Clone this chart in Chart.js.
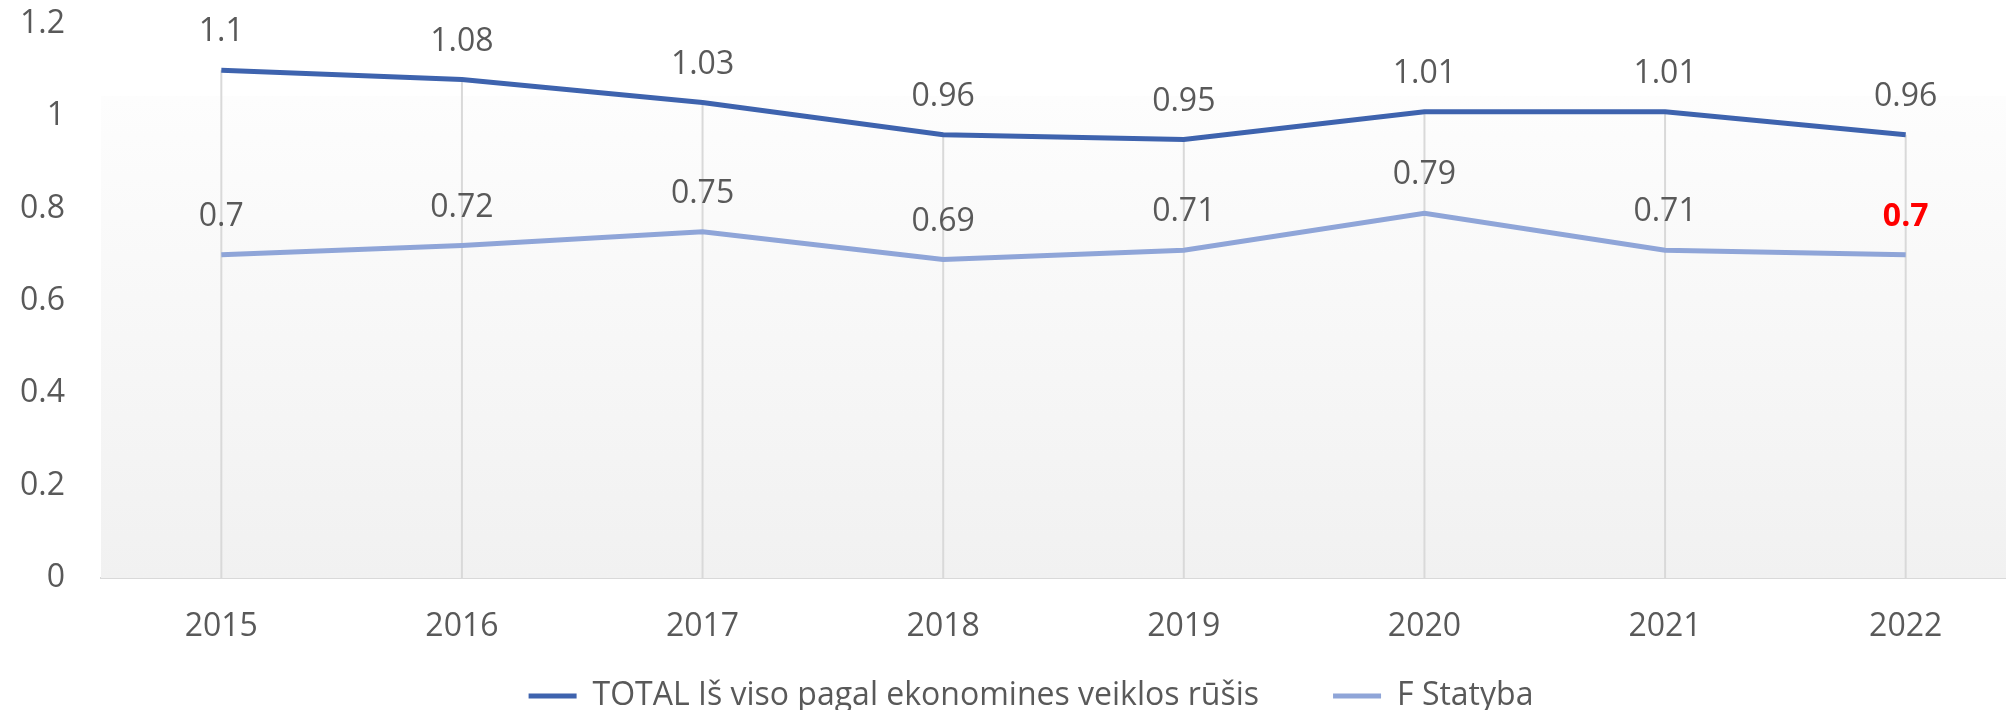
<!DOCTYPE html>
<html>
<head>
<meta charset="utf-8">
<script src="https://cdn.jsdelivr.net/npm/chart.js@4/dist/chart.umd.min.js"></script>
<style>
  html, body { margin: 0; padding: 0; background: #fff; overflow: hidden; }
  #wrap { width: 2030px; height: 766px; }
</style>
</head>
<body>
<div id="wrap"><canvas id="lineChart"></canvas></div>
<script>
const years = ['2015', '2016', '2017', '2018', '2019', '2020', '2021', '2022'];
const totalValues = [1.1, 1.08, 1.03, 0.96, 0.95, 1.01, 1.01, 0.96];
const statybaValues = [0.7, 0.72, 0.75, 0.69, 0.71, 0.79, 0.71, 0.7];
const yTicks = [0, 0.2, 0.4, 0.6, 0.8, 1, 1.2];

const FONT = "'Open Sans', sans-serif";
const GREY = '#595959';

// plot area fill + drop lines from the highest point to the axis
const backdrop = {
    id: 'backdrop',
    afterLayout(chart) {
        // nudge the legend: a bit right of centre and up under the axis labels
        if (chart.legend) {
            chart.legend.left += 36;
            chart.legend.top -= 44;
            chart.legend.bottom -= 44;
        }
    },
    beforeDatasetsDraw(chart) {
        const {ctx, chartArea, scales} = chart;
        const top = chartArea.top + 72;
        const grad = ctx.createLinearGradient(0, top, 0, chartArea.bottom);
        grad.addColorStop(0, '#fdfdfd');
        grad.addColorStop(1, '#f1f1f1');
        ctx.save();
        ctx.fillStyle = grad;
        ctx.fillRect(chartArea.left, top, chartArea.right - chartArea.left, chartArea.bottom - top);
        ctx.strokeStyle = '#d9d9d9';
        ctx.lineWidth = 2;
        years.forEach((y, i) => {
            const x = scales.x.getPixelForValue(i);
            const hi = Math.max(totalValues[i], statybaValues[i]);
            ctx.beginPath();
            ctx.moveTo(x, scales.y.getPixelForValue(hi));
            ctx.lineTo(x, chartArea.bottom);
            ctx.stroke();
        });
        ctx.restore();
    }
};

// value labels above each point
const valueLabels = {
    id: 'valueLabels',
    afterDatasetsDraw(chart) {
        const {ctx} = chart;
        ctx.save();
        ctx.textAlign = 'center';
        ctx.textBaseline = 'middle';
        chart.data.datasets.forEach((ds, di) => {
            chart.getDatasetMeta(di).data.forEach((pt, i) => {
                const hot = di === 1 && i === ds.data.length - 1;
                ctx.font = (hot ? 'bold ' : '') + '32px ' + FONT;
                ctx.fillStyle = hot ? '#ff0000' : GREY;
                ctx.fillText(String(ds.data[i]), pt.x, pt.y - 38);
            });
        });
        ctx.restore();
    }
};

const ctx = document.getElementById('lineChart').getContext('2d');
const lineChart = new Chart(ctx, {
    type: 'line',
    data: {
        labels: years,
        datasets: [{
            label: 'TOTAL Iš viso pagal ekonomines veiklos rūšis',
            data: totalValues,
            borderColor: '#3e63ae',
            backgroundColor: '#3e63ae',
            borderWidth: 5,
            pointRadius: 0,
            tension: 0
        }, {
            label: 'F Statyba',
            data: statybaValues,
            borderColor: '#8fa5d8',
            backgroundColor: '#8fa5d8',
            borderWidth: 5,
            pointRadius: 0,
            tension: 0
        }]
    },
    options: {
        responsive: true,
        maintainAspectRatio: false,
        animation: false,
        layout: { padding: { top: 24, right: 4, bottom: 0, left: 0 } },
        scales: {
            x: {
                offset: true,
                grid: { display: false, drawTicks: false },
                border: { display: true, color: '#d9d9d9', width: 2 },
                ticks: { color: GREY, font: { family: FONT, size: 32 }, padding: 30, maxRotation: 0 },
                afterFit(scale) { scale.height = 72; }
            },
            y: {
                min: 0,
                max: 1.2,
                afterBuildTicks(scale) { scale.ticks = yTicks.map(v => ({ value: v })); },
                grid: { display: false, drawTicks: false },
                border: { display: false },
                ticks: {
                    color: GREY,
                    font: { family: FONT, size: 32 },
                    padding: 36,
                    callback: v => String(Math.round(v * 10) / 10)
                },
                afterFit(scale) {
                    scale.width = 101;
                    scale.paddingTop = 0;
                    scale.paddingBottom = 0;
                }
            }
        },
        plugins: {
            legend: {
                position: 'bottom',
                labels: {
                    color: GREY,
                    font: { family: FONT, size: 32 },
                    boxWidth: 48,
                    boxHeight: 5,
                    padding: 74,
                    generateLabels(chart) {
                        const items = Chart.defaults.plugins.legend.labels.generateLabels(chart);
                        return items.map(it => ({ ...it, lineWidth: 0 }));
                    }
                }
            },
            tooltip: { enabled: false }
        }
    },
    plugins: [backdrop, valueLabels]
});
</script>
</body>
</html>
